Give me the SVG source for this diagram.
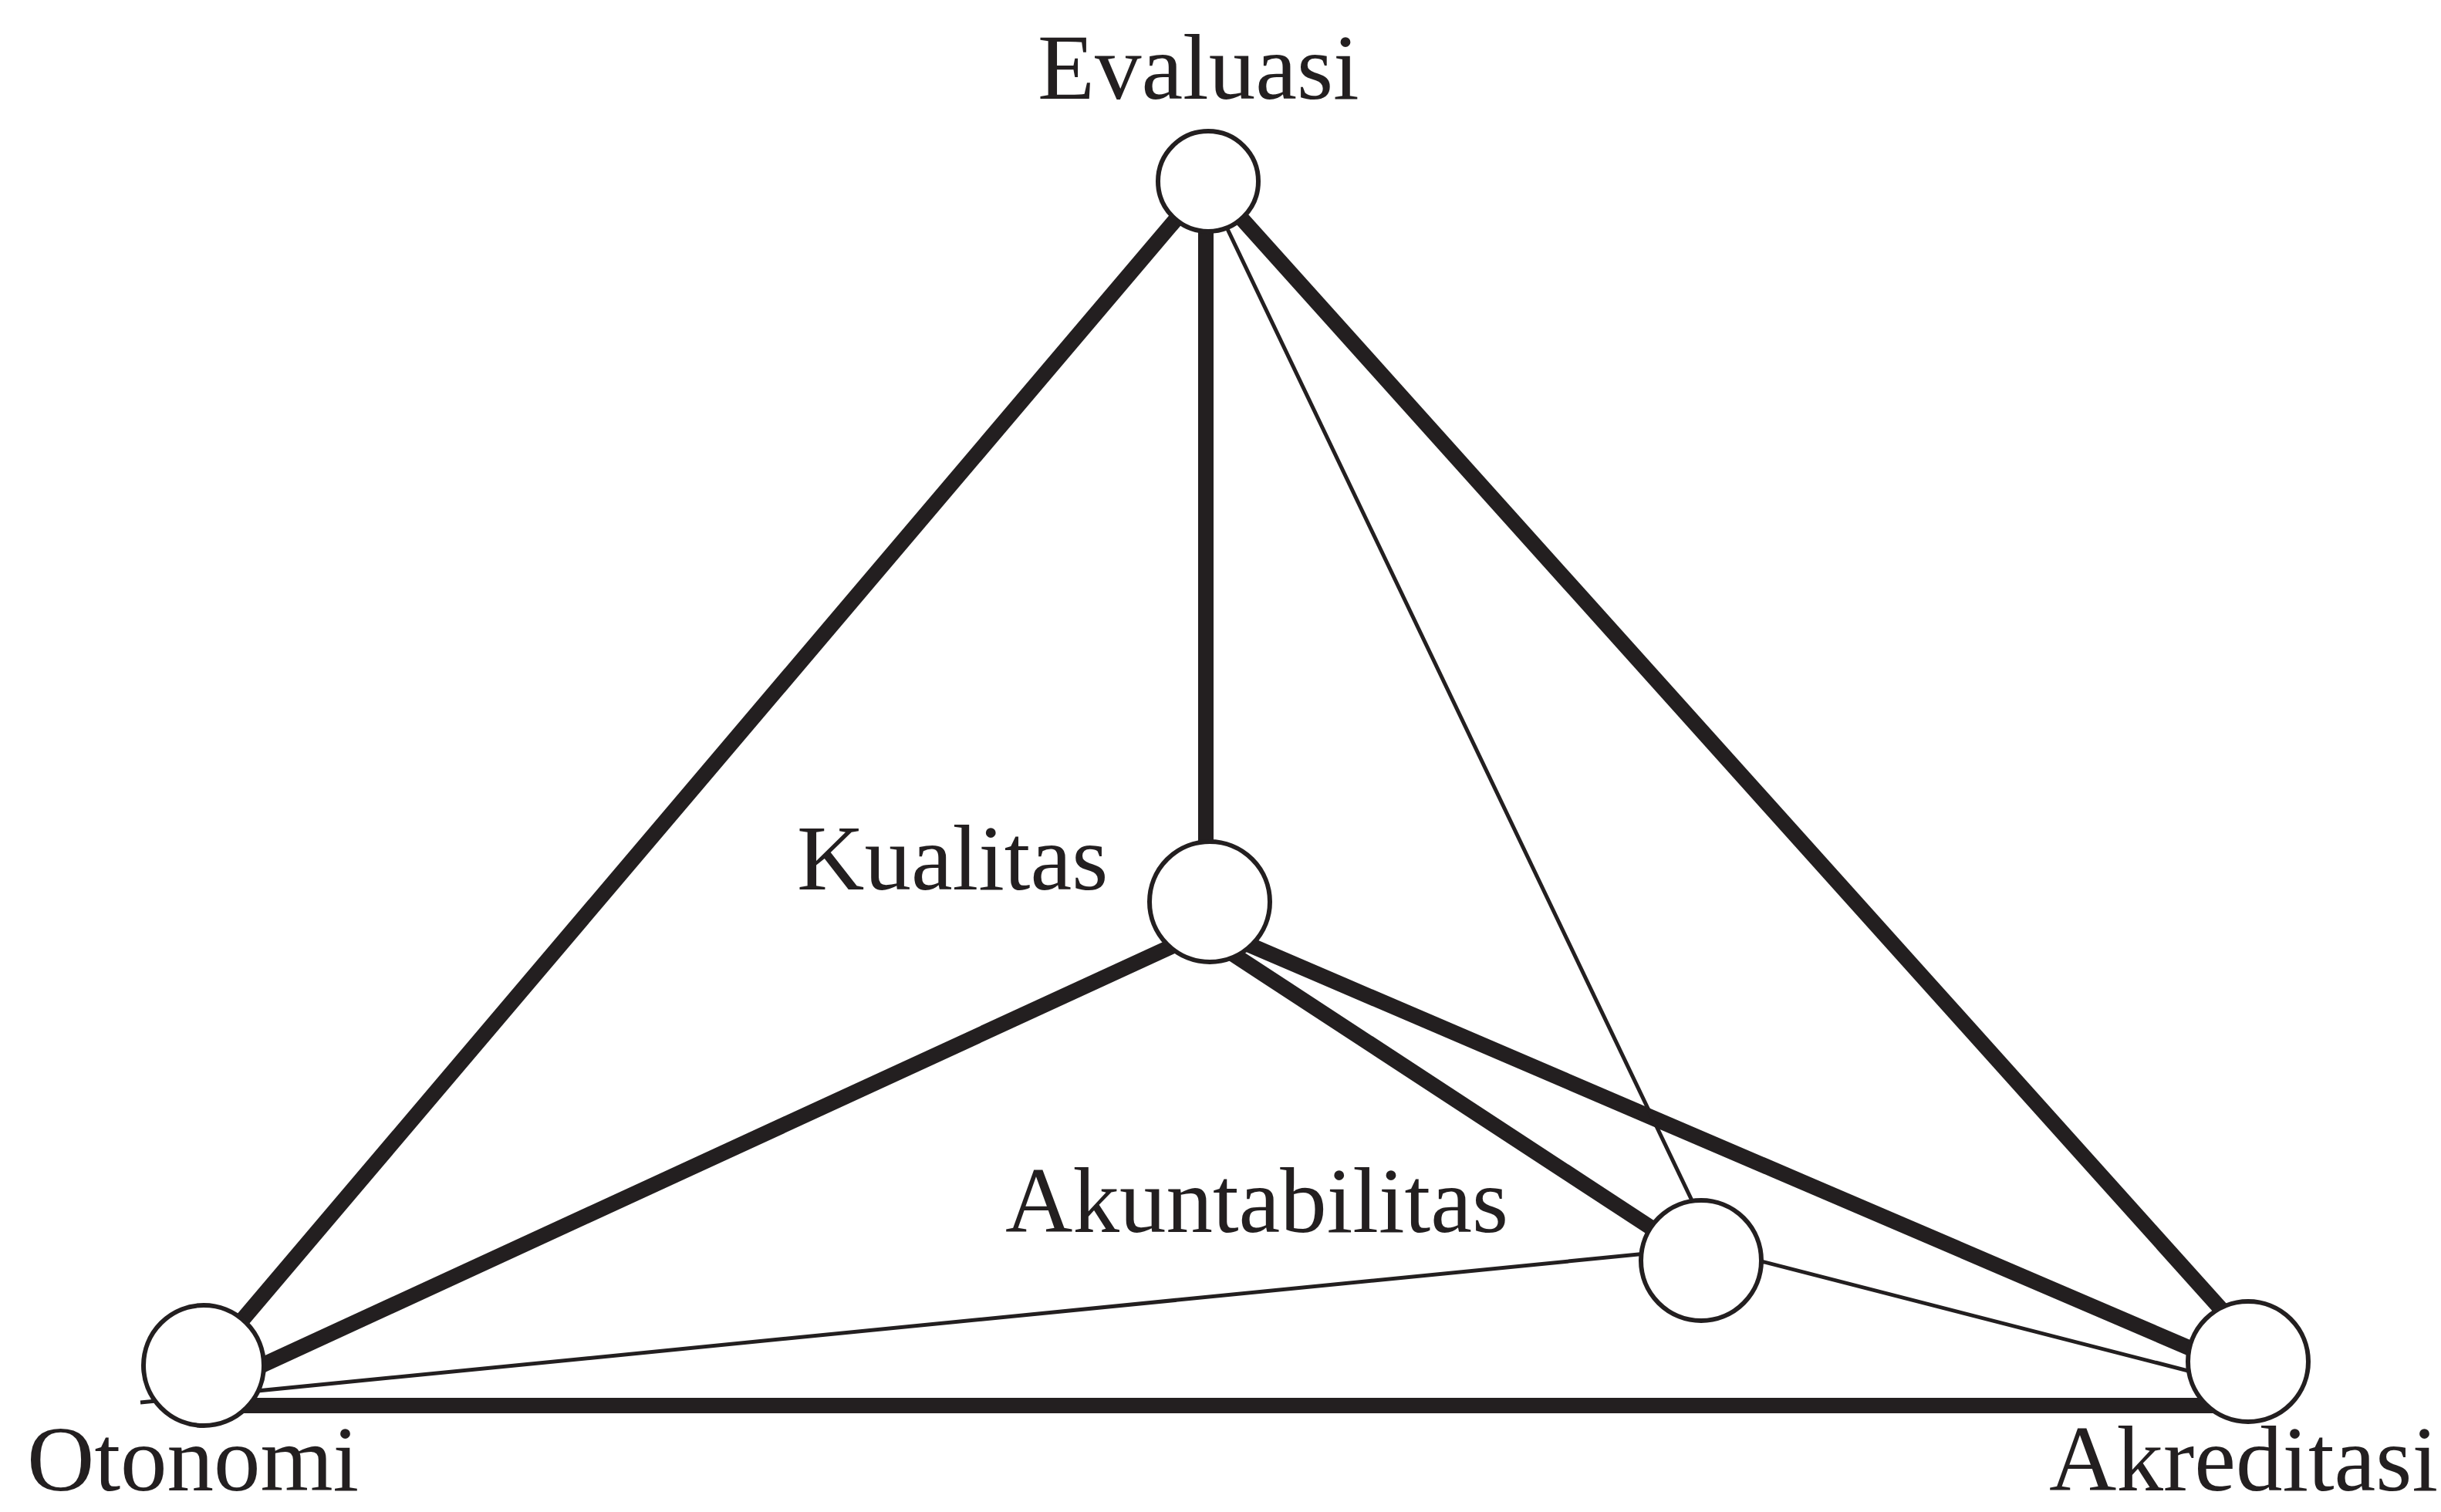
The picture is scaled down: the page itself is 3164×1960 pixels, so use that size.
<svg xmlns="http://www.w3.org/2000/svg" width="3164" height="1960" viewBox="0 0 3164 1960">
<style>
.thick{stroke:#231f20;stroke-width:20;fill:none}
.thin{stroke:#231f20;stroke-width:5;fill:none}
.node{fill:#ffffff;stroke:#231f20;stroke-width:6}
.lbl{font-family:"Liberation Serif","Times New Roman",serif;font-size:121px;fill:#231f20}
</style>
<rect width="3164" height="1960" fill="#ffffff"/>
<g id="connectors">
<line class="thick" x1="1566" y1="235" x2="264" y2="1770"/>
<line class="thick" x1="1563" y1="235" x2="1563" y2="1169"/>
<line class="thick" x1="1566" y1="235" x2="2940" y2="1765"/>
<line class="thick" x1="1540" y1="1217" x2="300" y2="1788"/>
<line class="thick" x1="1580" y1="1225" x2="2205" y2="1634"/>
<line class="thick" x1="1580" y1="1208" x2="2914" y2="1780"/>
<line class="thick" x1="264" y1="1822" x2="2914" y2="1822"/>
<line class="thin" x1="1560" y1="232" x2="2214" y2="1600"/>
<line class="thin" x1="182" y1="1818" x2="2205" y2="1618"/>
<line class="thin" x1="2205" y1="1615" x2="2914" y2="1797"/>
</g>
<g id="evaluasi">
<circle class="node" cx="1566" cy="235" r="65"/>
<text class="lbl" x="1345" y="128">Evaluasi</text>
</g>
<g id="kualitas">
<circle class="node" cx="1568" cy="1169" r="78"/>
<text class="lbl" x="1033" y="1153">Kualitas</text>
</g>
<g id="akuntabilitas">
<circle class="node" cx="2205" cy="1634" r="78"/>
<text class="lbl" x="1303" y="1597">Akuntabilitas</text>
</g>
<g id="otonomi">
<circle class="node" cx="264" cy="1770" r="78"/>
<text class="lbl" x="35" y="1932">Otonomi</text>
</g>
<g id="akreditasi">
<circle class="node" cx="2914" cy="1765" r="78"/>
<text class="lbl" x="2656" y="1932">Akreditasi</text>
</g>
</svg>
